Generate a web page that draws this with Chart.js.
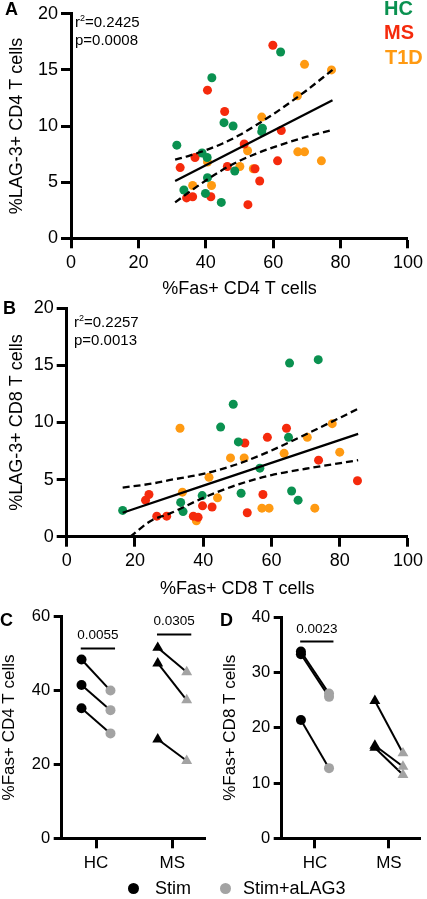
<!DOCTYPE html>
<html>
<head>
<meta charset="utf-8">
<script src="https://cdn.jsdelivr.net/npm/chart.js@4.4.0/dist/chart.umd.min.js"></script>
<style>
  body { margin: 0; background: #fff; width: 427px; height: 899px; position: relative; overflow: hidden;
         font-family: "Liberation Sans", Arial, sans-serif; }
  canvas { position: absolute; left: 0; top: 0; }
  .t { position: absolute; white-space: nowrap; line-height: 1; color: #000; }
  .b { font-weight: bold; }
  .dot { position: absolute; width: 11px; height: 11px; border-radius: 50%; }
  sup { font-size: 9px; vertical-align: 6px; line-height: 0; }
</style>
</head>
<body>
<canvas id="chartA" width="427" height="899"></canvas>
<canvas id="chartB" width="427" height="899"></canvas>
<canvas id="chartC" width="427" height="899"></canvas>
<canvas id="chartD" width="427" height="899"></canvas>

<div class="t b" style="left:5px;top:0px;font-size:18px">A</div>
<div class="t b" style="left:3px;top:299px;font-size:18px">B</div>
<div class="t b" style="left:0px;top:611px;font-size:18px">C</div>
<div class="t b" style="left:220px;top:611px;font-size:18px">D</div>

<div class="t b" style="left:384px;top:-2px;font-size:20px;color:#0a9150">HC</div>
<div class="t b" style="left:384px;top:22px;font-size:20px;color:#f52a0c">MS</div>
<div class="t b" style="left:385px;top:47px;font-size:20px;color:#ff9a12">T1D</div>

<div class="t" style="left:75px;top:14px;font-size:15px">r<sup>2</sup>=0.2425</div>
<div class="t" style="left:75px;top:32px;font-size:15px">p=0.0008</div>
<div class="t" style="left:74px;top:314px;font-size:15px">r<sup>2</sup>=0.2257</div>
<div class="t" style="left:74px;top:332px;font-size:15px">p=0.0013</div>

<div class="dot" style="left:128px;top:883px;background:#000"></div>
<div class="t" style="left:155px;top:879px;font-size:18px">Stim</div>
<div class="dot" style="left:220px;top:883px;background:#a3a3a3"></div>
<div class="t" style="left:243px;top:879px;font-size:18px">Stim+aLAG3</div>

<script>
const FONT = '"Liberation Sans", Arial, sans-serif';
const GREEN = '#0a9150', RED = '#f52a0c', ORANGE = '#ff9a12', GREY = '#a3a3a3';

// ---- panel A: %Fas+ CD4 vs %LAG-3+ CD4
const aHcX = [31.4, 38.9, 40.4, 41.8, 40.5, 33.5, 39.9, 44.6, 45.4, 48.1, 48.6, 56.8, 56.6, 62.2];
const aHcY = [8.3, 7.6, 7.2, 14.3, 5.4, 4.3, 4.0, 3.2, 10.3, 10.0, 6.0, 9.8, 9.5, 16.6];
const aMsX = [32.4, 36.8, 34.3, 36.1, 41.5, 40.5, 45.6, 46.4, 51.4, 52.5, 54.6, 56.0, 59.9, 61.3, 62.4];
const aMsY = [6.3, 7.2, 3.6, 3.7, 3.7, 13.2, 11.3, 6.4, 8.4, 3.0, 6.2, 5.1, 17.2, 6.9, 9.6];
const aT1dX = [36.1, 41.7, 40.5, 50.1, 52.4, 54.1, 56.6, 67.2, 69.3, 77.3, 67.3, 69.3, 74.3];
const aT1dY = [4.7, 4.7, 6.8, 6.4, 7.8, 6.2, 10.8, 12.7, 15.5, 15.0, 7.7, 7.7, 6.9];
const aFitX = [30.9, 77.6];
const aFitY = [5.1, 12.3];
const aUpX = [30.9, 35, 40, 45, 50, 55, 60, 65, 70, 77.6];
const aUpY = [7.0, 7.35, 7.85, 8.45, 9.2, 10.1, 11.05, 12.1, 13.2, 15.0];
const aLoX = [30.9, 35, 40, 45, 50, 55, 60, 65, 70, 77.6];
const aLoY = [3.2, 4.1, 5.15, 6.1, 6.9, 7.55, 8.1, 8.6, 9.05, 9.65];

// ---- panel B: %Fas+ CD8 vs %LAG-3+ CD8
const bHcX = [16.4, 33.4, 34.1, 39.7, 45.1, 48.8, 50.3, 51.1, 56.6, 65.3, 65.0, 65.9, 67.8, 73.7];
const bHcY = [2.3, 3.0, 2.2, 3.6, 9.6, 11.6, 8.3, 3.8, 6.0, 15.2, 8.7, 4.0, 3.2, 15.5];
const bMsX = [23.1, 24.1, 26.4, 29.3, 37.1, 38.5, 39.8, 42.6, 52.2, 52.9, 57.5, 58.8, 64.4, 73.8, 85.2];
const bMsY = [3.2, 3.7, 1.8, 1.8, 1.8, 1.7, 2.7, 2.6, 8.2, 2.1, 3.7, 8.7, 9.5, 6.7, 4.9];
const bT1dX = [33.2, 33.9, 38.0, 41.7, 44.2, 48.0, 52.0, 57.2, 59.3, 63.7, 70.5, 72.7, 77.8, 80.0];
const bT1dY = [9.5, 3.9, 1.4, 5.2, 3.4, 6.9, 6.9, 2.5, 2.5, 7.3, 8.7, 2.5, 9.9, 7.4];
const bFitX = [16.4, 85.4];
const bFitY = [2.1, 9.0];
const bUpX = [16.4, 25, 30, 40, 50, 60, 70, 85.4];
const bUpY = [4.3, 4.65, 4.95, 5.5, 6.35, 7.55, 8.95, 11.2];
const bLoX = [18.6, 25, 30, 40, 50, 60, 70, 85.4];
const bLoY = [0.0, 1.45, 2.0, 3.4, 4.55, 5.4, 5.95, 6.7];

// ---- panels C and D: paired Stim vs Stim+aLAG3
const groups = ['HC', 'MS'];
const cHcStim = [48.4, 41.5, 35.2];
const cHcAlag = [40.0, 34.7, 28.4];
const cMsStim = [51.6, 47.4, 26.8];
const cMsAlag = [45.0, 37.4, 21.0];
const cSigY = [51.4, 55.2];
const cSigText = ['0.0055', '0.0305'];

const dHcStim = [33.8, 33.3, 21.4];
const dHcAlag = [26.2, 25.6, 12.7];
const dMsStim = [24.9, 16.8, 16.4];
const dMsAlag = [15.4, 13.0, 11.5];
const dSigY = [35.6];
const dSigText = ['0.0023'];

const pts = (xs, ys) => xs.map((x, i) => ({x: x, y: ys[i]}));

function axis(size, tickLen, pad) {
  return {
    grid: {display: true, drawOnChartArea: false, drawTicks: true, tickLength: tickLen, tickWidth: 3, tickColor: '#000'},
    border: {display: true, width: 3, color: '#000'},
    ticks: {color: '#000', font: {family: FONT, size: size}, padding: pad}
  };
}

function lineSet(xs, ys, dashed) {
  return {
    type: 'scatter', data: pts(xs, ys), showLine: true, pointRadius: 0,
    borderColor: '#000', borderWidth: 2.3, borderDash: dashed ? [7, 4] : [],
    cubicInterpolationMode: 'monotone', order: 0
  };
}

function dotSet(xs, ys, color, order) {
  return {data: pts(xs, ys), backgroundColor: color, borderWidth: 0, pointRadius: 4.5, order: order};
}

function scatterPanel(id, s, pad, yW, xH, xTitle, yTitle) {
  const x = axis(18, 10, 4);
  x.min = 0; x.max = 100; x.ticks.stepSize = 20;
  x.title = {display: true, text: xTitle, color: '#000', font: {family: FONT, size: 18}, padding: {top: 0, bottom: 0.2}};
  x.afterFit = sc => { sc.height = xH; };
  const y = axis(18, 10, 3);
  y.min = 0; y.max = 20; y.ticks.stepSize = 5;
  y.title = {display: true, text: yTitle, color: '#000', font: {family: FONT, size: 18}, padding: {top: 6.7, bottom: 0}};
  y.afterFit = sc => { sc.width = yW; };
  new Chart(document.getElementById(id), {
    type: 'scatter',
    data: {datasets: [
      lineSet(s.fitX, s.fitY, false),
      lineSet(s.upX, s.upY, true),
      lineSet(s.loX, s.loY, true),
      dotSet(s.hcX, s.hcY, GREEN, 1),
      dotSet(s.msX, s.msY, RED, 2),
      dotSet(s.t1dX, s.t1dY, ORANGE, 3)
    ]},
    options: {
      responsive: false, animation: false,
      layout: {padding: pad},
      plugins: {legend: {display: false}, tooltip: {enabled: false}},
      scales: {x: x, y: y}
    }
  });
}

scatterPanel('chartA', {
  hcX: aHcX, hcY: aHcY, msX: aMsX, msY: aMsY, t1dX: aT1dX, t1dY: aT1dY,
  fitX: aFitX, fitY: aFitY, upX: aUpX, upY: aUpY, loX: aLoX, loY: aLoY
}, {left: 0, top: 10.7, right: 14.3, bottom: 599}, 71, 61.7, '%Fas+ CD4 T cells', '%LAG-3+ CD4 T cells');

scatterPanel('chartB', {
  hcX: bHcX, hcY: bHcY, msX: bMsX, msY: bMsY, t1dX: bT1dX, t1dY: bT1dY,
  fitX: bFitX, fitY: bFitY, upX: bUpX, upY: bUpY, loX: bLoX, loY: bLoY
}, {left: 0, top: 308.3, right: 18.7, bottom: 299}, 66.7, 63.3, '%Fas+ CD8 T cells', '%LAG-3+ CD8 T cells');

// paired panels
const DODGE = 0.19, SIG_L = -0.2, SIG_R = 0.25;

const sigLabels = {
  id: 'sigLabels',
  afterDatasetsDraw(chart, args, opts) {
    const {ctx, scales} = chart;
    ctx.save();
    ctx.font = '13.5px ' + FONT;
    ctx.fillStyle = '#000';
    ctx.textAlign = 'center';
    ctx.textBaseline = 'alphabetic';
    opts.ys.forEach((v, g) => {
      const px = scales.x.getPixelForValue(g + 1 + (SIG_L + SIG_R) / 2);
      const py = scales.y.getPixelForValue(v);
      ctx.fillText(opts.texts[g], px, py - 9);
    });
    ctx.restore();
  }
};

function pairedPanel(id, stim, alag, sigY, sigText, yMax, yStep, pad, yTitle, titlePad) {
  const shapes = ['circle', 'triangle'];
  const sets = [];
  stim.forEach((vals, g) => {
    const xs = g + 1 - DODGE, xa = g + 1 + DODGE;
    const r = shapes[g] === 'triangle' ? 6.3 : 5;
    vals.forEach((v, i) => {
      sets.push({data: [{x: xs, y: v}, {x: xa, y: alag[g][i]}], showLine: true, pointRadius: 0,
                 borderColor: '#000', borderWidth: 2, order: 2});
    });
    sets.push({data: vals.map(v => ({x: xs, y: v})), pointStyle: shapes[g], pointRadius: r,
               backgroundColor: '#000', borderWidth: 0, order: 0});
    sets.push({data: alag[g].map(v => ({x: xa, y: v})), pointStyle: shapes[g], pointRadius: r,
               backgroundColor: GREY, borderWidth: 0, order: 1});
  });
  sigY.forEach((v, g) => {
    sets.push({data: [{x: g + 1 + SIG_L, y: v}, {x: g + 1 + SIG_R, y: v}], showLine: true, pointRadius: 0,
               borderColor: '#000', borderWidth: 2, order: 0});
  });
  const x = axis(17, 10, 5);
  x.type = 'linear'; x.min = 0.55; x.max = 2.43;
  x.afterBuildTicks = sc => { sc.ticks = groups.map((n, i) => ({value: i + 1})); };
  x.ticks.callback = v => groups[v - 1];
  x.afterFit = sc => { sc.height = 30.7; };
  const y = axis(16.5, 8, 3.5);
  y.min = 0; y.max = yMax; y.ticks.stepSize = yStep;
  y.title = {display: true, text: yTitle, color: '#000', font: {family: FONT, size: 17, lineHeight: 1}, padding: {top: titlePad, bottom: 0}};
  y.afterFit = sc => { sc.width = 61.7; };
  new Chart(document.getElementById(id), {
    type: 'scatter',
    data: {datasets: sets},
    options: {
      responsive: false, animation: false,
      layout: {padding: pad},
      plugins: {legend: {display: false}, tooltip: {enabled: false}, sigLabels: {ys: sigY, texts: sigText}},
      scales: {x: x, y: y}
    },
    plugins: [sigLabels]
  });
}

pairedPanel('chartC', [cHcStim, cMsStim], [cHcAlag, cMsAlag], cSigY, cSigText, 60, 20,
  {left: 0, top: 616.7, right: 222, bottom: 30}, '%Fas+ CD4 T cells', 0.7);
pairedPanel('chartD', [dHcStim, dMsStim], [dHcAlag, dMsAlag], dSigY, dSigText, 40, 10,
  {left: 220, top: 617.3, right: 2, bottom: 30}, '%Fas+ CD8 T cells', 1.5);
</script>
</body>
</html>
